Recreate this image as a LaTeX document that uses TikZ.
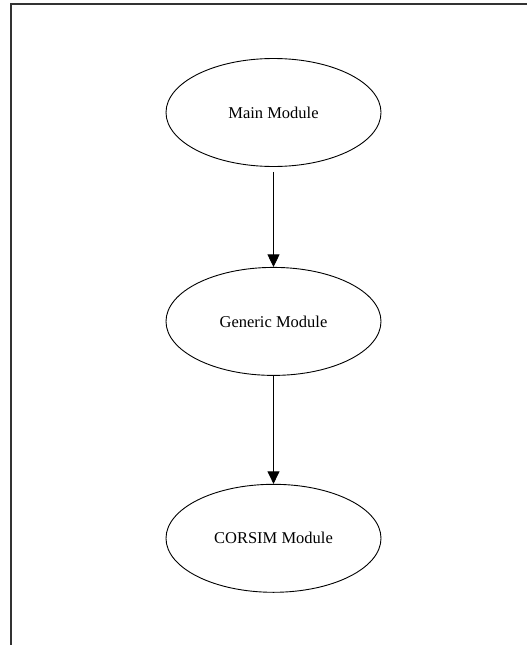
\documentclass[tikz,border=0pt]{standalone}
\usepackage{fontspec}
\setmainfont{Liberation Serif}
\usepackage{tikz}
\usetikzlibrary{positioning,shapes.geometric,arrows.meta}

\begin{document}
\begin{tikzpicture}[module/.style={draw,ellipse,line width=0.9pt,minimum width=215pt,minimum height=108pt,inner sep=0pt,font=\fontsize{16.5}{20}\selectfont},
		link/.style={line width=0.9pt,-{Triangle[length=12.5pt,width=12pt]}}]
				\useasboundingbox (0,0) rectangle (527pt,-645pt);
				\draw [line width=1.3pt,black!80] (11pt,-645pt)--(11pt,-4pt)--(527pt,-4pt);
				\node [module] (main) at (273.5pt,-112.5pt) {Main Module};
				\node [module, below=100pt of main] (generic) {Generic Module};
				\node [module, below=108pt of generic] (corsim) {CORSIM Module};
				\draw [link, shorten <=5pt] (main) -- (generic);
				\draw [link] (generic) -- (corsim);
			\end{tikzpicture}
\end{document}
